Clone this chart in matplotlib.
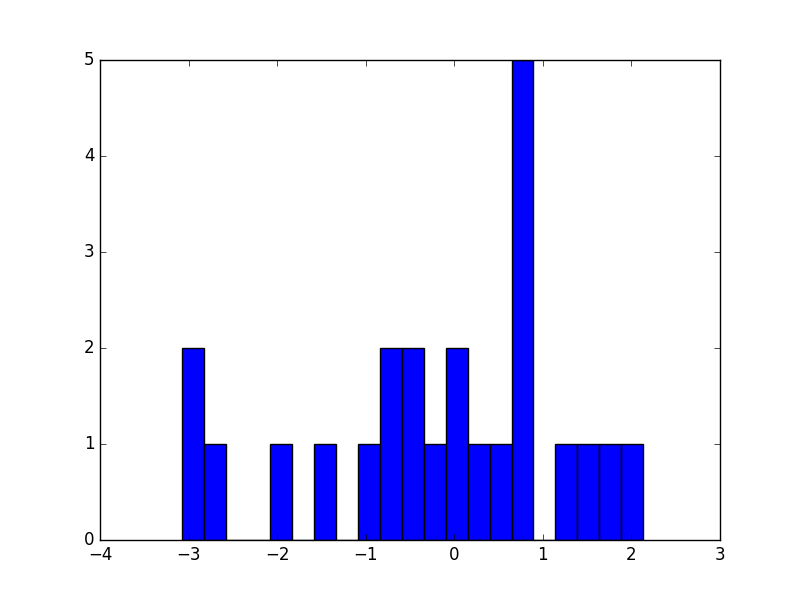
import matplotlib
matplotlib.use("Agg")
import matplotlib.pyplot as plt
import numpy as np

plt.style.use("classic")

bin_start = -3.076
bin_end = 2.135
counts = [2, 1, 0, 0, 1, 0, 1, 0, 1, 2, 2, 1, 2, 1, 1, 5, 0, 1, 1, 1, 1]

edges = np.linspace(bin_start, bin_end, len(counts) + 1)

fig = plt.figure(figsize=(8, 6), dpi=100)
ax = fig.add_subplot(111)
ax.bar(edges[:-1], counts, width=np.diff(edges), align="edge",
       color="b", edgecolor="k", linewidth=1)
ax.set_xlim(-4, 3)
ax.set_ylim(0, 5)
fig.savefig("out.png", dpi=100)
